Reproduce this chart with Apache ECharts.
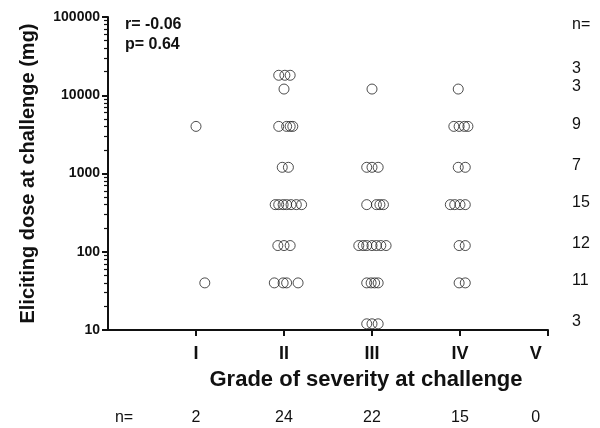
<!DOCTYPE html>
<html>
<head>
<meta charset="utf-8">
<script src="https://cdn.jsdelivr.net/npm/echarts@6/dist/echarts.min.js"></script>
<style>
  html, body { margin: 0; padding: 0; background: #fff; }
  #main { width: 600px; height: 428px; }
</style>
</head>
<body>
<div id="main"></div>
<script>
// axis labels and ticks
const grades = ['I', 'II', 'III', 'IV', 'V'];
const gradeTicks = [1, 2, 3, 4, 5];
const gradeLabelAt = [1, 2, 3, 4, 4.86];
const gradeCounts = [2, 24, 22, 15, 0];
const doseTicks = [10, 100, 1000, 10000, 100000];
const minorMult = [2, 3, 4, 5, 6, 7, 8, 9];
const doseLevels = [18000, 12000, 4000, 1200, 400, 120, 40, 12];
const doseCounts = [3, 3, 9, 7, 15, 12, 11, 3];

// points: [grade position (jittered), eliciting dose mg]
const gradeI = [[1.00, 4000], [1.10, 40]];
const gradeII = [
  [1.94, 18000], [2.01, 18000], [2.07, 18000],
  [2.00, 12000],
  [1.94, 4000], [2.03, 4000], [2.07, 4000], [2.10, 4000],
  [1.98, 1200], [2.05, 1200],
  [1.90, 400], [1.94, 400], [1.99, 400], [2.03, 400], [2.08, 400], [2.14, 400], [2.20, 400],
  [1.93, 120], [2.00, 120], [2.07, 120],
  [1.89, 40], [1.99, 40], [2.03, 40], [2.16, 40]
];
const gradeIII = [
  [3.00, 12000],
  [2.94, 1200], [3.00, 1200], [3.07, 1200],
  [2.94, 400], [3.05, 400], [3.09, 400], [3.13, 400],
  [2.85, 120], [2.90, 120], [2.94, 120], [3.00, 120], [3.05, 120], [3.10, 120], [3.16, 120],
  [2.94, 40], [2.99, 40], [3.03, 40], [3.07, 40],
  [2.94, 12], [3.00, 12], [3.07, 12]
];
const gradeIV = [
  [3.98, 12000],
  [3.93, 4000], [3.99, 4000], [4.05, 4000], [4.09, 4000],
  [3.98, 1200], [4.06, 1200],
  [3.89, 400], [3.94, 400], [4.00, 400], [4.06, 400],
  [3.99, 120], [4.06, 120],
  [3.99, 40], [4.06, 40]
];

const FONT = 'Liberation Sans, Arial, Helvetica, sans-serif';
const minorTicks = [];
doseTicks.slice(0, -1).forEach(d => minorMult.forEach(m => minorTicks.push(d * m)));

const chart = echarts.init(document.getElementById('main'));

const circleSeries = (data) => ({
  type: 'scatter',
  data: data,
  symbol: 'circle',
  symbolSize: 10,
  itemStyle: { color: 'rgba(0,0,0,0)', borderColor: '#222', borderWidth: 1 },
  emphasis: { disabled: true }
});

chart.setOption({
  animation: false,
  backgroundColor: '#fff',
  grid: { left: 108, right: 52, top: 17, bottom: 98 },
  xAxis: {
    type: 'value',
    min: 0,
    max: 5,
    name: 'Grade of severity at challenge',
    nameLocation: 'middle',
    nameGap: 39,
    nameTextStyle: { fontFamily: FONT, fontWeight: 'bold', fontSize: 22, color: '#111', padding: [0, 0, 0, 76] },
    axisLine: { lineStyle: { color: '#111', width: 2 } },
    axisTick: { show: true, customValues: gradeTicks, length: 6, lineStyle: { color: '#111', width: 2 } },
    axisLabel: {
      customValues: gradeLabelAt,
      formatter: v => grades[gradeLabelAt.indexOf(v)],
      margin: 15,
      fontFamily: FONT, fontWeight: 'bold', fontSize: 18, color: '#111'
    },
    splitLine: { show: false }
  },
  yAxis: [
    {
      type: 'log',
      logBase: 10,
      min: 10,
      max: 100000,
      name: 'Eliciting dose at challenge (mg)',
      nameLocation: 'middle',
      nameGap: 70,
      nameTextStyle: { fontFamily: FONT, fontWeight: 'bold', fontSize: 20, color: '#111' },
      axisLine: { lineStyle: { color: '#111', width: 2 } },
      axisTick: { show: true, customValues: doseTicks, length: 6, lineStyle: { color: '#111', width: 2 } },
      axisLabel: {
        customValues: doseTicks,
        formatter: v => String(v),
        margin: 8,
        fontFamily: FONT, fontWeight: 'bold', fontSize: 14, color: '#111'
      },
      splitLine: { show: false }
    },
    {
      // minor ticks at 2..9 of each decade, drawn on the left edge
      type: 'log',
      logBase: 10,
      min: 10,
      max: 100000,
      position: 'right',
      offset: -440,
      axisLine: { show: false },
      axisTick: { show: true, inside: true, customValues: minorTicks, length: 4, lineStyle: { color: '#111', width: 1.2 } },
      axisLabel: { show: false },
      splitLine: { show: false }
    }
  ],
  series: [gradeI, gradeII, gradeIII, gradeIV].map(circleSeries)
});

// annotations: r/p, n= counts placed through the axes
const px = v => chart.convertToPixel({ xAxisIndex: 0 }, v);
const py = v => chart.convertToPixel({ yAxisIndex: 0 }, v);
const txt = (text, x, y, opts) => ({
  type: 'text', x: x, y: y, silent: true,
  style: Object.assign({ text: text, fontFamily: FONT, fontSize: 16, fill: '#111', align: 'center', verticalAlign: 'middle' }, opts || {})
});

const graphics = [
  txt('r= -0.06', 125, 25, { align: 'left', fontWeight: 'bold' }),
  txt('p= 0.64', 125, 45, { align: 'left', fontWeight: 'bold' }),
  txt('n=', 572, 25, { align: 'left' }),
  txt('n=', 124, 418)
];
doseLevels.forEach((d, i) => {
  graphics.push(txt(String(doseCounts[i]), 572, py(d) - (i === 0 ? 7 : 2), { align: 'left' }));
});
gradeLabelAt.forEach((g, i) => {
  graphics.push(txt(String(gradeCounts[i]), px(g), 418));
});
chart.setOption({ graphic: graphics });
</script>
</body>
</html>
